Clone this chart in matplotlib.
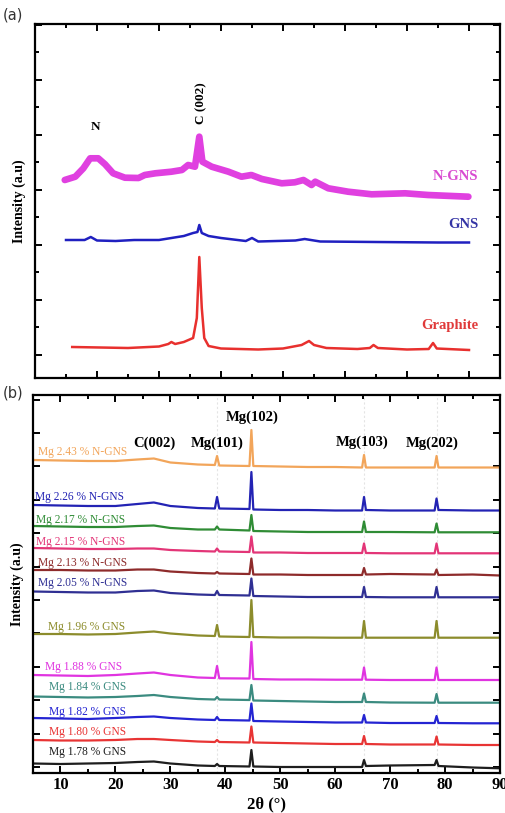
import numpy as np
import matplotlib.pyplot as plt
from matplotlib.ticker import MultipleLocator, FixedLocator, NullFormatter

plt.rcParams['font.family'] = ['Liberation Serif', 'DejaVu Serif']

# ---- (a) carbon supports: 2theta (deg) vs offset intensity ----
graphite_x = [6, 15, 20, 21.5, 22, 22.6, 24, 25.5, 26.1, 26.5, 26.9, 27.3, 28, 30, 36, 40, 43,
              44.2, 45, 47, 52, 54, 54.6, 55.3, 60, 63.5, 64.2, 64.8, 70]
graphite_y = [31, 30, 31.5, 34, 36, 34, 36, 40, 60, 121, 70, 40, 32, 29.5, 28.5, 29.5, 33,
              37, 33, 30, 29, 30, 33, 30, 28.5, 29, 35, 29.5, 28]

gns_x = [5, 8, 9, 10, 13, 16, 20, 24, 25.5, 26.2, 26.5, 26.9, 28, 30, 34, 35, 36, 42, 43.5,
         46, 55, 65, 70]
gns_y = [138, 138, 141, 137.5, 137, 138, 138, 142, 145, 146, 153, 145, 142, 140, 137, 140,
         136.5, 137.5, 139, 136.5, 136, 135.5, 135.5]

ngns_x = [4.8, 6.5, 7.8, 8.9, 10.2, 11.3, 12.6, 14.5, 16.7, 17.7, 19.4, 22, 23.7, 24.7, 25.8,
          26.5, 27.0, 28.5, 31.2, 33.3, 34.9, 36.6, 39.8, 41.9, 43.3, 44.6, 45.2, 47.3, 50.5,
          54.3, 59.7, 63.4, 69.9]
ngns_y = [198, 201.3, 209.7, 219.7, 219.7, 213.7, 204.7, 200.3, 200, 203, 204.7, 206.3, 208,
          213, 211.3, 241.3, 216.3, 211.3, 206.3, 201.3, 203, 199, 194.7, 195.7, 198, 193,
          196.3, 189.7, 186.3, 183.7, 184.7, 183, 181.3]

# ---- (b) Mg-loaded samples, sampled at shared 2theta points ----
mg_x = [5, 10, 15, 20, 24, 27, 30, 35, 38.1, 38.5, 38.9, 44.4, 44.75, 45.1, 50, 55, 60,
        64.9, 65.25, 65.6, 70, 78.1, 78.45, 78.8, 85, 90]

mg243_ngns = [313, 312.5, 312, 312, 313.5, 314.5, 310.5, 308.5, 308, 317, 307.5, 307, 343, 307,
              306.5, 306, 306, 305.5, 318, 305.5, 305.5, 305.5, 317, 305.5, 305.5, 305.5]
mg226_ngns = [268, 267.5, 267, 267, 269, 270.5, 267, 265, 264.5, 276, 264.5, 264, 301, 263.5,
              263, 263, 262.5, 262.5, 276, 263, 262.5, 262.5, 274.5, 263, 262.5, 262.5]
mg217_ngns = [247, 246.5, 246, 246, 247, 247.5, 245, 243.5, 243.5, 246.5, 243.5, 242.5, 258, 242,
              241.5, 241, 241, 241, 251.5, 241, 241, 240.7, 249.5, 240.7, 240.7, 240.7]
mg215_ngns = [225, 224.5, 224, 224, 224.5, 224.5, 223, 222, 221.5, 224.5, 221.5, 221, 236.5, 220.5,
              220.5, 220, 220, 220, 229.5, 220, 219.7, 219.7, 229.5, 219.7, 219.7, 219.7]
mg213_ngns = [203, 203, 202.5, 202.5, 203.5, 203.5, 201.5, 200, 199.5, 201, 199.5, 199, 214.5, 198.5,
              198.5, 198, 198, 198, 205, 198.5, 199, 198.5, 203.5, 198, 198.5, 197.5]
mg205_ngns = [181.5, 181, 180.5, 180.5, 182, 182.5, 180, 178.5, 178, 182, 178, 177.5, 194.5, 177,
              176.5, 176, 176, 176, 186, 176, 175.7, 175.7, 186, 175.7, 175.7, 175.7]
mg196_gns = [139, 139, 138.5, 139, 140.5, 141.5, 139.5, 137.5, 137, 148, 136.5, 136, 173, 136,
             135.5, 135.5, 135.3, 135.3, 152, 135.3, 135.3, 135.3, 152, 135.3, 135.3, 135.3]
mg188_gns = [98, 97.5, 97, 98, 99.5, 100.5, 98, 95.5, 95, 107, 94.7, 94.5, 131, 94,
             93.5, 93.5, 93.3, 93.3, 105.5, 93.3, 93, 93, 105.5, 93, 93, 93]
mg184_gns = [76.5, 76, 75.5, 76, 77, 78, 76, 74, 73.5, 76, 73.5, 73, 88, 72.5,
             72, 71.5, 71, 71, 79.5, 71, 70.5, 70.3, 79, 70.3, 70.3, 70.3]
mg182_gns = [55, 54.5, 54, 55, 56, 56.5, 55, 53.5, 53, 56, 53, 52.5, 69.5, 52,
             51.5, 51, 50.5, 50.5, 58, 50.5, 50, 50, 57, 50, 49.7, 49.7]
mg180_gns = [33, 32.5, 32.5, 33, 34, 34, 33, 31.5, 31, 33, 31, 30.5, 46.5, 30.5,
             30, 29.5, 29, 29, 37, 29, 28.5, 28.5, 36.5, 28.5, 28, 28]
mg178_gns = [9.5, 9, 9.5, 10, 11, 11.5, 9.5, 7.5, 7, 9, 7, 6.5, 23, 6.5,
             6, 6, 6, 6, 13, 7, 7.5, 8, 13, 7, 5.5, 4.7]

mg_names = ['Mg 2.43 % N-GNS', 'Mg 2.26 % N-GNS', 'Mg 2.17 % N-GNS', 'Mg 2.15 % N-GNS',
            'Mg 2.13 % N-GNS', 'Mg 2.05 % N-GNS', 'Mg 1.96 % GNS', 'Mg 1.88 % GNS',
            'Mg 1.84 % GNS', 'Mg 1.82 % GNS', 'Mg 1.80 % GNS', 'Mg 1.78 % GNS']
mg_series = [mg243_ngns, mg226_ngns, mg217_ngns, mg215_ngns, mg213_ngns, mg205_ngns,
             mg196_gns, mg188_gns, mg184_gns, mg182_gns, mg180_gns, mg178_gns]

mg_colors = ['#f2a55a', '#2323b4', '#2f8c35', '#e33577', '#8e2b2b', '#2f2f93',
             '#8c8c2c', '#e034e0', '#3b8b80', '#2424d2', '#e83434', '#1e1e1e']
# label anchor (2theta, intensity) for each sample name
mg_label_pos = [(5.9, 321), (5.3, 276), (5.6, 253), (5.6, 231), (5.9, 210), (5.9, 190),
                (7.7, 146), (7.1, 106), (8.0, 86), (8.0, 61), (8.0, 41), (8.0, 21)]


def style_axes(ax):
    for s in ax.spines.values():
        s.set_linewidth(1.6)
    ax.tick_params(which='both', direction='in', top=True, right=True, width=1.4)
    ax.tick_params(which='major', length=5)
    ax.tick_params(which='minor', length=3)


fig = plt.figure(figsize=(5.06, 8.13), dpi=100)

# panel (a)
ax_a = fig.add_axes([35 / 506, 1 - 378 / 813, 465 / 506, 354 / 813])
ax_a.plot(graphite_x, graphite_y, color='#e8302e', lw=1.8)
ax_a.plot(gns_x, gns_y, color='#2020c0', lw=1.8)
ax_a.plot(ngns_x, ngns_y, color='#e040e0', lw=4.8, solid_joinstyle='round',
          solid_capstyle='round')
ax_a.set_xlim(0, 75)
ax_a.set_ylim(0, 354)
ax_a.xaxis.set_major_locator(MultipleLocator(10))
ax_a.xaxis.set_minor_locator(MultipleLocator(5))
ax_a.yaxis.set_major_locator(FixedLocator(np.arange(23, 354, 55)))
ax_a.yaxis.set_minor_locator(FixedLocator(np.arange(50.5, 354, 55)))
ax_a.xaxis.set_major_formatter(NullFormatter())
ax_a.yaxis.set_major_formatter(NullFormatter())
style_axes(ax_a)
ax_a.set_ylabel('Intensity (a.u)', fontsize=10, fontweight='bold', labelpad=3)

ax_a.text(9.7, 251, 'N', fontsize=9.5, fontweight='bold', ha='center', va='center')
ax_a.text(26.9, 275, 'C (002)', fontsize=9.5, fontweight='bold', rotation=90,
          ha='center', va='center')
ax_a.text(71.5, 201, 'N-GNS', fontsize=10.5, fontweight='bold', color='#d84ad0',
          ha='right', va='center')
ax_a.text(71.5, 154, 'GNS', fontsize=10.5, fontweight='bold', color='#3535a5',
          ha='right', va='center')
ax_a.text(71.5, 53, 'Graphite', fontsize=10.5, fontweight='bold', color='#e03a3a',
          ha='right', va='center')

# panel (b)
ax_b = fig.add_axes([33 / 506, 1 - 773 / 813, 467 / 506, 378 / 813])
for pk in [38.5, 65.25, 78.45]:
    ax_b.axvline(pk, color='#e4e4e4', lw=0.8, ls=(0, (2, 2)), zorder=0)
for name, ys, c, (lx, ly) in zip(mg_names, mg_series, mg_colors, mg_label_pos):
    ax_b.plot(mg_x, ys, color=c, lw=1.6)
    ax_b.text(lx, ly, name, fontsize=8.3, color=c, ha='left', va='center')

ax_b.set_xlim(5, 90)
ax_b.set_ylim(0, 378)
ax_b.xaxis.set_major_locator(MultipleLocator(10))
ax_b.xaxis.set_minor_locator(MultipleLocator(5))
ax_b.yaxis.set_major_locator(FixedLocator(np.arange(6, 378, 33.4)))
ax_b.yaxis.set_major_formatter(NullFormatter())
style_axes(ax_b)
ax_b.tick_params(axis='x', labelsize=12, pad=3)
for lab in ax_b.get_xticklabels():
    lab.set_fontweight('bold')
ax_b.set_ylabel('Intensity (a.u)', fontsize=10, fontweight='bold', labelpad=3)
ax_b.set_xlabel('2θ (°)', fontsize=12, fontweight='bold', labelpad=2)

ax_b.text(44.95, 356, 'Mg(102)', fontsize=10.5, fontweight='bold', ha='center', va='center')
ax_b.text(27.1, 330, 'C(002)', fontsize=10.5, fontweight='bold', ha='center', va='center')
ax_b.text(38.5, 330, 'Mg(101)', fontsize=10.5, fontweight='bold', ha='center', va='center')
ax_b.text(64.9, 331, 'Mg(103)', fontsize=10.5, fontweight='bold', ha='center', va='center')
ax_b.text(77.6, 330, 'Mg(202)', fontsize=10.5, fontweight='bold', ha='center', va='center')

fig.text(3 / 506, 1 - 15 / 813, '(a)', fontsize=10.5, family='DejaVu Sans', color='#333333',
         va='center')
fig.text(3 / 506, 1 - 393 / 813, '(b)', fontsize=10.5, family='DejaVu Sans', color='#333333',
         va='center')

fig.savefig('out.png', dpi=100)
